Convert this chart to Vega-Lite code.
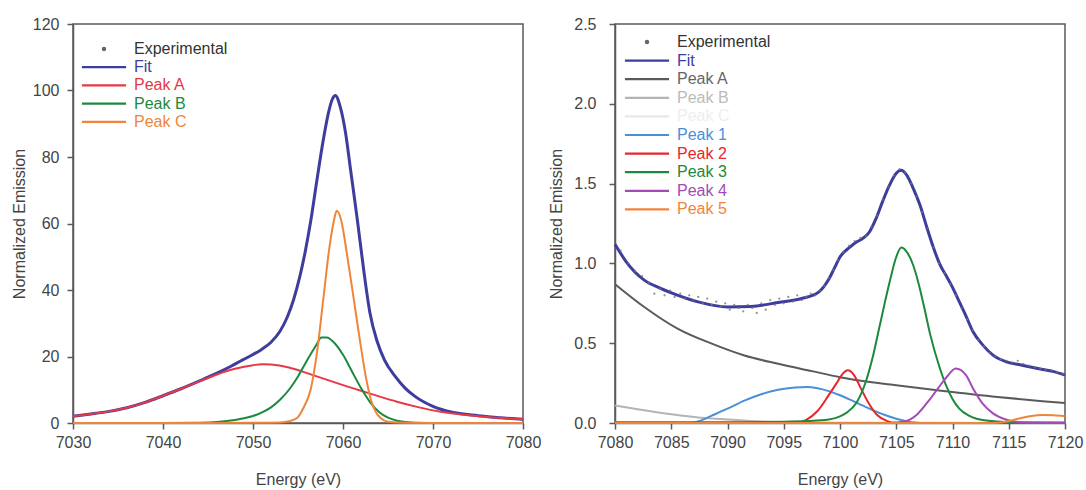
{
  "$schema": "https://vega.github.io/schema/vega-lite/v6.json",
  "background": "white",
  "padding": {"left": 10, "top": 15, "right": 0, "bottom": 0},
  "config": {
    "font": "Liberation Sans",
    "view": {"stroke": "#5a5a5a", "strokeWidth": 1.5},
    "axis": {"domainColor": "#5a5a5a", "domainWidth": 1.5, "tickColor": "#5a5a5a", "tickWidth": 1.5, "tickSize": 6, "labelColor": "#444", "labelFontSize": 16, "titleFontSize": 16, "titleFontWeight": "normal", "titleColor": "#444", "grid": false, "labelFlush": false},
    "concat": {"spacing": 6}
  },
  "resolve": {"scale": {"color": "independent"}},
  "datasets": {
    "left": [
      {"series": "Experimental", "x": 7032, "y": 2.7}, {"series": "Experimental", "x": 7036, "y": 4.6}, {"series": "Experimental", "x": 7040, "y": 8.2}, {"series": "Experimental", "x": 7044, "y": 12.6}, {"series": "Experimental", "x": 7048, "y": 17.7}, {"series": "Experimental", "x": 7052, "y": 24.3}, {"series": "Experimental", "x": 7056, "y": 55.2}, {"series": "Experimental", "x": 7058, "y": 87.8}, {"series": "Experimental", "x": 7059, "y": 98.0}, {"series": "Experimental", "x": 7060, "y": 91.0}, {"series": "Experimental", "x": 7062, "y": 52.4}, {"series": "Experimental", "x": 7064, "y": 23.1}, {"series": "Experimental", "x": 7068, "y": 8.0}, {"series": "Experimental", "x": 7072, "y": 3.3}, {"series": "Experimental", "x": 7076, "y": 1.9},
      {"series": "Fit", "x": 7030, "y": 2.0}, {"series": "Fit", "x": 7032, "y": 2.7}, {"series": "Fit", "x": 7034, "y": 3.5}, {"series": "Fit", "x": 7036, "y": 4.6}, {"series": "Fit", "x": 7038, "y": 6.2}, {"series": "Fit", "x": 7040, "y": 8.2}, {"series": "Fit", "x": 7042, "y": 10.3}, {"series": "Fit", "x": 7044, "y": 12.6}, {"series": "Fit", "x": 7046, "y": 15.0}, {"series": "Fit", "x": 7047.5, "y": 17.0}, {"series": "Fit", "x": 7048.8, "y": 18.9}, {"series": "Fit", "x": 7050, "y": 20.6}, {"series": "Fit", "x": 7051, "y": 22.2}, {"series": "Fit", "x": 7052, "y": 24.3}, {"series": "Fit", "x": 7053, "y": 27.6}, {"series": "Fit", "x": 7053.8, "y": 31.8}, {"series": "Fit", "x": 7054.5, "y": 37.0}, {"series": "Fit", "x": 7055.2, "y": 44.0}, {"series": "Fit", "x": 7055.8, "y": 51.5}, {"series": "Fit", "x": 7056.4, "y": 60.5}, {"series": "Fit", "x": 7057.1, "y": 73.0}, {"series": "Fit", "x": 7057.8, "y": 85.0}, {"series": "Fit", "x": 7058.4, "y": 93.5}, {"series": "Fit", "x": 7058.8, "y": 97.3}, {"series": "Fit", "x": 7059.15, "y": 98.5}, {"series": "Fit", "x": 7059.7, "y": 95.0}, {"series": "Fit", "x": 7060.3, "y": 87.0}, {"series": "Fit", "x": 7060.8, "y": 77.0}, {"series": "Fit", "x": 7061.6, "y": 61.0}, {"series": "Fit", "x": 7062.3, "y": 46.0}, {"series": "Fit", "x": 7063.0, "y": 33.0}, {"series": "Fit", "x": 7063.8, "y": 24.5}, {"series": "Fit", "x": 7064.6, "y": 19.0}, {"series": "Fit", "x": 7065.8, "y": 14.0}, {"series": "Fit", "x": 7066.9, "y": 10.5}, {"series": "Fit", "x": 7068, "y": 8.0}, {"series": "Fit", "x": 7070, "y": 5.0}, {"series": "Fit", "x": 7072, "y": 3.3}, {"series": "Fit", "x": 7075, "y": 2.2}, {"series": "Fit", "x": 7077.5, "y": 1.6}, {"series": "Fit", "x": 7080, "y": 1.1},
      {"series": "Peak A", "x": 7030, "y": 2.0}, {"series": "Peak A", "x": 7032, "y": 2.7}, {"series": "Peak A", "x": 7034, "y": 3.5}, {"series": "Peak A", "x": 7036, "y": 4.6}, {"series": "Peak A", "x": 7038, "y": 6.2}, {"series": "Peak A", "x": 7040, "y": 8.2}, {"series": "Peak A", "x": 7042, "y": 10.3}, {"series": "Peak A", "x": 7044, "y": 12.5}, {"series": "Peak A", "x": 7046, "y": 14.6}, {"series": "Peak A", "x": 7048, "y": 16.3}, {"series": "Peak A", "x": 7050, "y": 17.4}, {"series": "Peak A", "x": 7051, "y": 17.7}, {"series": "Peak A", "x": 7052, "y": 17.6}, {"series": "Peak A", "x": 7054, "y": 16.7}, {"series": "Peak A", "x": 7056, "y": 15.0}, {"series": "Peak A", "x": 7058, "y": 13.2}, {"series": "Peak A", "x": 7060, "y": 11.4}, {"series": "Peak A", "x": 7062, "y": 9.7}, {"series": "Peak A", "x": 7064, "y": 8.0}, {"series": "Peak A", "x": 7066, "y": 6.4}, {"series": "Peak A", "x": 7068, "y": 5.0}, {"series": "Peak A", "x": 7070, "y": 3.8}, {"series": "Peak A", "x": 7072, "y": 2.9}, {"series": "Peak A", "x": 7074, "y": 2.3}, {"series": "Peak A", "x": 7076, "y": 1.8}, {"series": "Peak A", "x": 7078, "y": 1.4}, {"series": "Peak A", "x": 7080, "y": 1.1},
      {"series": "Peak B", "x": 7030, "y": 0}, {"series": "Peak B", "x": 7040, "y": 0.02}, {"series": "Peak B", "x": 7044, "y": 0.1}, {"series": "Peak B", "x": 7046, "y": 0.3}, {"series": "Peak B", "x": 7048, "y": 0.9}, {"series": "Peak B", "x": 7049, "y": 1.4}, {"series": "Peak B", "x": 7050, "y": 2.1}, {"series": "Peak B", "x": 7051, "y": 3.2}, {"series": "Peak B", "x": 7052, "y": 4.7}, {"series": "Peak B", "x": 7053, "y": 7.0}, {"series": "Peak B", "x": 7054, "y": 10.0}, {"series": "Peak B", "x": 7055, "y": 14.0}, {"series": "Peak B", "x": 7056, "y": 18.8}, {"series": "Peak B", "x": 7057, "y": 23.3}, {"series": "Peak B", "x": 7057.6, "y": 25.7}, {"series": "Peak B", "x": 7058.2, "y": 25.7}, {"series": "Peak B", "x": 7059, "y": 24.2}, {"series": "Peak B", "x": 7060, "y": 20.5}, {"series": "Peak B", "x": 7061, "y": 15.5}, {"series": "Peak B", "x": 7062, "y": 10.5}, {"series": "Peak B", "x": 7063, "y": 6.3}, {"series": "Peak B", "x": 7064, "y": 3.3}, {"series": "Peak B", "x": 7065, "y": 1.6}, {"series": "Peak B", "x": 7066, "y": 0.7}, {"series": "Peak B", "x": 7067, "y": 0.3}, {"series": "Peak B", "x": 7068, "y": 0.1}, {"series": "Peak B", "x": 7070, "y": 0.02}, {"series": "Peak B", "x": 7080, "y": 0},
      {"series": "Peak C", "x": 7030, "y": 0}, {"series": "Peak C", "x": 7045, "y": 0}, {"series": "Peak C", "x": 7050, "y": 0.05}, {"series": "Peak C", "x": 7053, "y": 0.15}, {"series": "Peak C", "x": 7054, "y": 0.5}, {"series": "Peak C", "x": 7054.9, "y": 1.5}, {"series": "Peak C", "x": 7055.6, "y": 4.5}, {"series": "Peak C", "x": 7056.4, "y": 10.0}, {"series": "Peak C", "x": 7057.1, "y": 21.0}, {"series": "Peak C", "x": 7057.8, "y": 37.0}, {"series": "Peak C", "x": 7058.5, "y": 53.0}, {"series": "Peak C", "x": 7059.0, "y": 61.0}, {"series": "Peak C", "x": 7059.3, "y": 63.8}, {"series": "Peak C", "x": 7059.8, "y": 61.0}, {"series": "Peak C", "x": 7060.4, "y": 51.5}, {"series": "Peak C", "x": 7061.1, "y": 39.0}, {"series": "Peak C", "x": 7061.9, "y": 24.5}, {"series": "Peak C", "x": 7062.6, "y": 13.0}, {"series": "Peak C", "x": 7063.1, "y": 7.0}, {"series": "Peak C", "x": 7063.6, "y": 3.5}, {"series": "Peak C", "x": 7064.2, "y": 1.4}, {"series": "Peak C", "x": 7065, "y": 0.4}, {"series": "Peak C", "x": 7067, "y": 0.05}, {"series": "Peak C", "x": 7070, "y": 0}, {"series": "Peak C", "x": 7080, "y": 0}
    ],
    "right": [
      {"series": "Experimental", "x": 7080.5, "y": 1.08}, {"series": "Experimental", "x": 7081.2, "y": 1.0}, {"series": "Experimental", "x": 7081.8, "y": 0.95}, {"series": "Experimental", "x": 7082.4, "y": 0.92}, {"series": "Experimental", "x": 7083, "y": 0.88}, {"series": "Experimental", "x": 7083.5, "y": 0.81}, {"series": "Experimental", "x": 7084, "y": 0.84}, {"series": "Experimental", "x": 7084.4, "y": 0.8}, {"series": "Experimental", "x": 7084.9, "y": 0.83}, {"series": "Experimental", "x": 7085.3, "y": 0.79}, {"series": "Experimental", "x": 7085.8, "y": 0.81}, {"series": "Experimental", "x": 7086.2, "y": 0.78}, {"series": "Experimental", "x": 7086.6, "y": 0.8}, {"series": "Experimental", "x": 7087, "y": 0.77}, {"series": "Experimental", "x": 7087.4, "y": 0.79}, {"series": "Experimental", "x": 7087.8, "y": 0.75}, {"series": "Experimental", "x": 7088.2, "y": 0.78}, {"series": "Experimental", "x": 7088.6, "y": 0.74}, {"series": "Experimental", "x": 7089, "y": 0.76}, {"series": "Experimental", "x": 7089.4, "y": 0.73}, {"series": "Experimental", "x": 7089.8, "y": 0.75}, {"series": "Experimental", "x": 7090.2, "y": 0.71}, {"series": "Experimental", "x": 7090.6, "y": 0.74}, {"series": "Experimental", "x": 7091, "y": 0.72}, {"series": "Experimental", "x": 7091.4, "y": 0.7}, {"series": "Experimental", "x": 7091.8, "y": 0.74}, {"series": "Experimental", "x": 7092.2, "y": 0.72}, {"series": "Experimental", "x": 7092.6, "y": 0.69}, {"series": "Experimental", "x": 7093, "y": 0.75}, {"series": "Experimental", "x": 7093.4, "y": 0.71}, {"series": "Experimental", "x": 7093.8, "y": 0.77}, {"series": "Experimental", "x": 7094.2, "y": 0.74}, {"series": "Experimental", "x": 7094.6, "y": 0.78}, {"series": "Experimental", "x": 7095, "y": 0.75}, {"series": "Experimental", "x": 7095.4, "y": 0.79}, {"series": "Experimental", "x": 7095.8, "y": 0.76}, {"series": "Experimental", "x": 7096.2, "y": 0.8}, {"series": "Experimental", "x": 7096.6, "y": 0.77}, {"series": "Experimental", "x": 7097, "y": 0.79}, {"series": "Experimental", "x": 7097.4, "y": 0.81}, {"series": "Experimental", "x": 7097.8, "y": 0.8}, {"series": "Experimental", "x": 7098.2, "y": 0.83}, {"series": "Experimental", "x": 7098.6, "y": 0.86}, {"series": "Experimental", "x": 7099, "y": 0.91}, {"series": "Experimental", "x": 7099.4, "y": 0.96}, {"series": "Experimental", "x": 7099.8, "y": 1.02}, {"series": "Experimental", "x": 7100.3, "y": 1.07}, {"series": "Experimental", "x": 7100.8, "y": 1.11}, {"series": "Experimental", "x": 7101.3, "y": 1.14}, {"series": "Experimental", "x": 7101.8, "y": 1.16}, {"series": "Experimental", "x": 7102.3, "y": 1.17}, {"series": "Experimental", "x": 7102.8, "y": 1.23}, {"series": "Experimental", "x": 7103.3, "y": 1.3}, {"series": "Experimental", "x": 7103.8, "y": 1.4}, {"series": "Experimental", "x": 7104.3, "y": 1.48}, {"series": "Experimental", "x": 7104.8, "y": 1.55}, {"series": "Experimental", "x": 7105.3, "y": 1.59}, {"series": "Experimental", "x": 7105.8, "y": 1.57}, {"series": "Experimental", "x": 7106.3, "y": 1.5}, {"series": "Experimental", "x": 7106.8, "y": 1.42}, {"series": "Experimental", "x": 7107.3, "y": 1.32}, {"series": "Experimental", "x": 7107.8, "y": 1.22}, {"series": "Experimental", "x": 7108.3, "y": 1.1}, {"series": "Experimental", "x": 7108.8, "y": 1.0}, {"series": "Experimental", "x": 7109.3, "y": 0.94}, {"series": "Experimental", "x": 7109.8, "y": 0.87}, {"series": "Experimental", "x": 7110.3, "y": 0.8}, {"series": "Experimental", "x": 7110.8, "y": 0.72}, {"series": "Experimental", "x": 7111.3, "y": 0.65}, {"series": "Experimental", "x": 7111.8, "y": 0.58}, {"series": "Experimental", "x": 7112.3, "y": 0.52}, {"series": "Experimental", "x": 7112.8, "y": 0.48}, {"series": "Experimental", "x": 7113.3, "y": 0.44}, {"series": "Experimental", "x": 7113.8, "y": 0.42}, {"series": "Experimental", "x": 7114.3, "y": 0.4}, {"series": "Experimental", "x": 7114.8, "y": 0.39}, {"series": "Experimental", "x": 7115.3, "y": 0.38}, {"series": "Experimental", "x": 7115.8, "y": 0.39}, {"series": "Experimental", "x": 7116.3, "y": 0.37}, {"series": "Experimental", "x": 7116.8, "y": 0.36}, {"series": "Experimental", "x": 7117.3, "y": 0.35}, {"series": "Experimental", "x": 7117.8, "y": 0.34}, {"series": "Experimental", "x": 7118.3, "y": 0.335}, {"series": "Experimental", "x": 7118.8, "y": 0.33}, {"series": "Experimental", "x": 7119.3, "y": 0.32}, {"series": "Experimental", "x": 7119.8, "y": 0.31},
      {"series": "Fit", "x": 7080, "y": 1.12}, {"series": "Fit", "x": 7081, "y": 1.01}, {"series": "Fit", "x": 7082.6, "y": 0.895}, {"series": "Fit", "x": 7084, "y": 0.845}, {"series": "Fit", "x": 7085.6, "y": 0.8}, {"series": "Fit", "x": 7087.4, "y": 0.759}, {"series": "Fit", "x": 7090, "y": 0.727}, {"series": "Fit", "x": 7092.1, "y": 0.73}, {"series": "Fit", "x": 7094.5, "y": 0.755}, {"series": "Fit", "x": 7096.6, "y": 0.78}, {"series": "Fit", "x": 7098.1, "y": 0.82}, {"series": "Fit", "x": 7099, "y": 0.9}, {"series": "Fit", "x": 7099.5, "y": 0.97}, {"series": "Fit", "x": 7100, "y": 1.04}, {"series": "Fit", "x": 7100.85, "y": 1.1}, {"series": "Fit", "x": 7101.5, "y": 1.135}, {"series": "Fit", "x": 7102, "y": 1.155}, {"series": "Fit", "x": 7102.6, "y": 1.195}, {"series": "Fit", "x": 7103.2, "y": 1.28}, {"series": "Fit", "x": 7103.8, "y": 1.39}, {"series": "Fit", "x": 7104.4, "y": 1.49}, {"series": "Fit", "x": 7105, "y": 1.565}, {"series": "Fit", "x": 7105.44, "y": 1.583}, {"series": "Fit", "x": 7105.9, "y": 1.556}, {"series": "Fit", "x": 7106.5, "y": 1.472}, {"series": "Fit", "x": 7107.1, "y": 1.367}, {"series": "Fit", "x": 7107.7, "y": 1.23}, {"series": "Fit", "x": 7108.3, "y": 1.1}, {"series": "Fit", "x": 7108.9, "y": 0.99}, {"series": "Fit", "x": 7109.5, "y": 0.915}, {"series": "Fit", "x": 7110, "y": 0.85}, {"series": "Fit", "x": 7110.6, "y": 0.76}, {"series": "Fit", "x": 7111.2, "y": 0.67}, {"series": "Fit", "x": 7111.8, "y": 0.575}, {"series": "Fit", "x": 7112.7, "y": 0.488}, {"series": "Fit", "x": 7113.6, "y": 0.425}, {"series": "Fit", "x": 7114.8, "y": 0.383}, {"series": "Fit", "x": 7116.2, "y": 0.362}, {"series": "Fit", "x": 7117.7, "y": 0.34}, {"series": "Fit", "x": 7119, "y": 0.322}, {"series": "Fit", "x": 7120, "y": 0.3},
      {"series": "Peak A", "x": 7080, "y": 0.87}, {"series": "Peak A", "x": 7082.6, "y": 0.727}, {"series": "Peak A", "x": 7085.6, "y": 0.59}, {"series": "Peak A", "x": 7088.6, "y": 0.497}, {"series": "Peak A", "x": 7091.5, "y": 0.423}, {"series": "Peak A", "x": 7094.5, "y": 0.371}, {"series": "Peak A", "x": 7097.5, "y": 0.325}, {"series": "Peak A", "x": 7100, "y": 0.287}, {"series": "Peak A", "x": 7102.5, "y": 0.258}, {"series": "Peak A", "x": 7105, "y": 0.236}, {"series": "Peak A", "x": 7109, "y": 0.202}, {"series": "Peak A", "x": 7114, "y": 0.163}, {"series": "Peak A", "x": 7118, "y": 0.137}, {"series": "Peak A", "x": 7120, "y": 0.126},
      {"series": "Peak B", "x": 7080, "y": 0.11}, {"series": "Peak B", "x": 7083, "y": 0.075}, {"series": "Peak B", "x": 7086, "y": 0.046}, {"series": "Peak B", "x": 7089, "y": 0.026}, {"series": "Peak B", "x": 7092, "y": 0.013}, {"series": "Peak B", "x": 7096, "y": 0.004}, {"series": "Peak B", "x": 7100, "y": 0.001}, {"series": "Peak B", "x": 7120, "y": 0},
      {"series": "Peak C", "x": 7080, "y": 0.004}, {"series": "Peak C", "x": 7100, "y": 0.002}, {"series": "Peak C", "x": 7120, "y": 0.001},
      {"series": "Peak 1", "x": 7080, "y": 0}, {"series": "Peak 1", "x": 7086.8, "y": 0}, {"series": "Peak 1", "x": 7087.6, "y": 0.015}, {"series": "Peak 1", "x": 7088.6, "y": 0.046}, {"series": "Peak 1", "x": 7090, "y": 0.09}, {"series": "Peak 1", "x": 7091.5, "y": 0.14}, {"series": "Peak 1", "x": 7093, "y": 0.18}, {"series": "Peak 1", "x": 7094.5, "y": 0.208}, {"series": "Peak 1", "x": 7096, "y": 0.222}, {"series": "Peak 1", "x": 7097, "y": 0.225}, {"series": "Peak 1", "x": 7098, "y": 0.218}, {"series": "Peak 1", "x": 7099, "y": 0.2}, {"series": "Peak 1", "x": 7100, "y": 0.174}, {"series": "Peak 1", "x": 7101, "y": 0.143}, {"series": "Peak 1", "x": 7102, "y": 0.11}, {"series": "Peak 1", "x": 7103, "y": 0.078}, {"series": "Peak 1", "x": 7104, "y": 0.05}, {"series": "Peak 1", "x": 7105, "y": 0.027}, {"series": "Peak 1", "x": 7106, "y": 0.01}, {"series": "Peak 1", "x": 7107.1, "y": 0}, {"series": "Peak 1", "x": 7120, "y": 0},
      {"series": "Peak 2", "x": 7080, "y": 0}, {"series": "Peak 2", "x": 7096.2, "y": 0}, {"series": "Peak 2", "x": 7097, "y": 0.02}, {"series": "Peak 2", "x": 7098, "y": 0.075}, {"series": "Peak 2", "x": 7099, "y": 0.175}, {"series": "Peak 2", "x": 7099.7, "y": 0.25}, {"series": "Peak 2", "x": 7100.2, "y": 0.305}, {"series": "Peak 2", "x": 7100.7, "y": 0.33}, {"series": "Peak 2", "x": 7101.2, "y": 0.305}, {"series": "Peak 2", "x": 7101.8, "y": 0.225}, {"series": "Peak 2", "x": 7102.5, "y": 0.13}, {"series": "Peak 2", "x": 7103.3, "y": 0.05}, {"series": "Peak 2", "x": 7104.2, "y": 0.012}, {"series": "Peak 2", "x": 7105, "y": 0}, {"series": "Peak 2", "x": 7120, "y": 0},
      {"series": "Peak 3", "x": 7080, "y": 0.004}, {"series": "Peak 3", "x": 7090, "y": 0.005}, {"series": "Peak 3", "x": 7095, "y": 0.008}, {"series": "Peak 3", "x": 7097, "y": 0.012}, {"series": "Peak 3", "x": 7099, "y": 0.022}, {"series": "Peak 3", "x": 7100, "y": 0.042}, {"series": "Peak 3", "x": 7100.6, "y": 0.065}, {"series": "Peak 3", "x": 7101.45, "y": 0.125}, {"series": "Peak 3", "x": 7102.3, "y": 0.26}, {"series": "Peak 3", "x": 7102.9, "y": 0.41}, {"series": "Peak 3", "x": 7103.5, "y": 0.6}, {"series": "Peak 3", "x": 7104.4, "y": 0.88}, {"series": "Peak 3", "x": 7105, "y": 1.04}, {"series": "Peak 3", "x": 7105.45, "y": 1.099}, {"series": "Peak 3", "x": 7105.9, "y": 1.075}, {"series": "Peak 3", "x": 7106.5, "y": 0.99}, {"series": "Peak 3", "x": 7107, "y": 0.87}, {"series": "Peak 3", "x": 7107.5, "y": 0.72}, {"series": "Peak 3", "x": 7108, "y": 0.56}, {"series": "Peak 3", "x": 7108.8, "y": 0.36}, {"series": "Peak 3", "x": 7109.4, "y": 0.24}, {"series": "Peak 3", "x": 7110, "y": 0.15}, {"series": "Peak 3", "x": 7110.6, "y": 0.09}, {"series": "Peak 3", "x": 7111.5, "y": 0.045}, {"series": "Peak 3", "x": 7113, "y": 0.015}, {"series": "Peak 3", "x": 7115, "y": 0.005}, {"series": "Peak 3", "x": 7120, "y": 0.003},
      {"series": "Peak 4", "x": 7080, "y": 0}, {"series": "Peak 4", "x": 7104, "y": 0}, {"series": "Peak 4", "x": 7105, "y": 0.003}, {"series": "Peak 4", "x": 7105.9, "y": 0.012}, {"series": "Peak 4", "x": 7106.8, "y": 0.05}, {"series": "Peak 4", "x": 7108, "y": 0.15}, {"series": "Peak 4", "x": 7108.9, "y": 0.235}, {"series": "Peak 4", "x": 7109.5, "y": 0.29}, {"series": "Peak 4", "x": 7110.3, "y": 0.341}, {"series": "Peak 4", "x": 7111.2, "y": 0.3}, {"series": "Peak 4", "x": 7111.8, "y": 0.22}, {"series": "Peak 4", "x": 7112.7, "y": 0.12}, {"series": "Peak 4", "x": 7113.6, "y": 0.06}, {"series": "Peak 4", "x": 7114.8, "y": 0.02}, {"series": "Peak 4", "x": 7116, "y": 0.003}, {"series": "Peak 4", "x": 7117, "y": 0}, {"series": "Peak 4", "x": 7120, "y": 0},
      {"series": "Peak 5", "x": 7080, "y": 0}, {"series": "Peak 5", "x": 7113.5, "y": 0}, {"series": "Peak 5", "x": 7114.5, "y": 0.005}, {"series": "Peak 5", "x": 7115.5, "y": 0.02}, {"series": "Peak 5", "x": 7116.2, "y": 0.033}, {"series": "Peak 5", "x": 7117, "y": 0.044}, {"series": "Peak 5", "x": 7118, "y": 0.05}, {"series": "Peak 5", "x": 7119, "y": 0.048}, {"series": "Peak 5", "x": 7120, "y": 0.042}
    ]
  },
  "hconcat": [
    {
      "width": 450,
      "height": 399,
      "data": {"name": "left"},
      "encoding": {
        "x": {"field": "x", "type": "quantitative", "scale": {"domain": [7030, 7080], "nice": false, "zero": false}, "axis": {"values": [7030, 7040, 7050, 7060, 7070, 7080], "format": "d", "title": "Energy (eV)", "labelPadding": 5, "titlePadding": 21}},
        "y": {"field": "y", "type": "quantitative", "scale": {"domain": [0, 120], "nice": false}, "axis": {"values": [0, 20, 40, 60, 80, 100, 120], "title": "Normalized Emission", "labelPadding": 8, "titlePadding": 5}}
      },
      "layer": [
        {
          "transform": [{"filter": "datum.series === 'Experimental'"}],
          "mark": {"type": "circle", "size": 5, "color": "#777", "opacity": 0.8}
        },
        {
          "transform": [{"filter": "datum.series === 'Fit'"}],
          "mark": {"type": "line", "strokeWidth": 3, "interpolate": "monotone"},
          "encoding": {
            "color": {"field": "series", "type": "nominal", "scale": {"domain": ["Experimental", "Fit", "Peak A", "Peak B", "Peak C"], "range": ["#666666", "#3d3d9e", "#e53945", "#1c8a3c", "#f0853a"]},
              "legend": {"title": null, "orient": "none", "legendX": 23, "legendY": 17, "symbolType": "M-5,0H5", "symbolSize": 78, "symbolStrokeWidth": 2.2, "labelFontSize": 16, "labelOffset": 22, "rowPadding": 2.2, "padding": 0, "labelLimit": 300,
                "encode": {
                  "symbols": {"update": {"shape": {"signal": "datum.value === 'Experimental' ? 'circle' : 'M-5,0H5'"}, "size": {"signal": "datum.value === 'Experimental' ? 5 : 78"}, "fill": {"signal": "datum.value === 'Experimental' ? '#666666' : 'transparent'"}}},
                  "labels": {"update": {"fill": {"signal": "datum.value === 'Fit' ? '#3d3d9e' : datum.value === 'Peak A' ? '#e53945' : datum.value === 'Peak B' ? '#1c8a3c' : datum.value === 'Peak C' ? '#f0853a' : '#333333'"}}}
                }}}
          }
        },
        {
          "transform": [{"filter": "datum.series !== 'Experimental' && datum.series !== 'Fit'"}],
          "mark": {"type": "line", "strokeWidth": 2, "interpolate": "monotone"},
          "encoding": {
            "color": {"field": "series", "type": "nominal", "scale": {"domain": ["Experimental", "Fit", "Peak A", "Peak B", "Peak C"], "range": ["#666666", "#3d3d9e", "#e53945", "#1c8a3c", "#f0853a"]},
              "legend": {"title": null, "orient": "none", "legendX": 23, "legendY": 17, "symbolType": "M-5,0H5", "symbolSize": 78, "symbolStrokeWidth": 2.2, "labelFontSize": 16, "labelOffset": 22, "rowPadding": 2.2, "padding": 0, "labelLimit": 300,
                "encode": {
                  "symbols": {"update": {"shape": {"signal": "datum.value === 'Experimental' ? 'circle' : 'M-5,0H5'"}, "size": {"signal": "datum.value === 'Experimental' ? 5 : 78"}, "fill": {"signal": "datum.value === 'Experimental' ? '#666666' : 'transparent'"}}},
                  "labels": {"update": {"fill": {"signal": "datum.value === 'Fit' ? '#3d3d9e' : datum.value === 'Peak A' ? '#e53945' : datum.value === 'Peak B' ? '#1c8a3c' : datum.value === 'Peak C' ? '#f0853a' : '#333333'"}}}
                }}}
          }
        }
      ]
    },
    {
      "width": 450,
      "height": 399,
      "data": {"name": "right"},
      "encoding": {
        "x": {"field": "x", "type": "quantitative", "scale": {"domain": [7080, 7120], "nice": false, "zero": false}, "axis": {"values": [7080, 7085, 7090, 7095, 7100, 7105, 7110, 7115, 7120], "format": "d", "title": "Energy (eV)", "labelPadding": 5, "titlePadding": 21}},
        "y": {"field": "y", "type": "quantitative", "scale": {"domain": [0, 2.5], "nice": false}, "axis": {"values": [0, 0.5, 1, 1.5, 2, 2.5], "format": ".1f", "title": "Normalized Emission", "labelPadding": 13, "titlePadding": 9}}
      },
      "layer": [
        {
          "transform": [{"filter": "datum.series === 'Fit'"}],
          "mark": {"type": "line", "strokeWidth": 3, "interpolate": "monotone"},
          "encoding": {
            "color": {"field": "series", "type": "nominal", "scale": {"domain": ["Experimental", "Fit", "Peak A", "Peak B", "Peak C", "Peak 1", "Peak 2", "Peak 3", "Peak 4", "Peak 5"], "range": ["#666666", "#3d3d9e", "#5a5a5a", "#b4b4b4", "#e8e8e8", "#4a8fd9", "#e8262b", "#1c8a3c", "#a24bb4", "#f0853a"]},
              "legend": {"title": null, "orient": "none", "legendX": 24, "legendY": 10, "symbolType": "M-5,0H5", "symbolSize": 78, "symbolStrokeWidth": 2.2, "labelFontSize": 16, "labelOffset": 22, "rowPadding": 2.6, "padding": 0, "labelLimit": 300,
                "encode": {
                  "symbols": {"update": {"shape": {"signal": "datum.value === 'Experimental' ? 'circle' : 'M-5,0H5'"}, "size": {"signal": "datum.value === 'Experimental' ? 5 : 78"}, "fill": {"signal": "datum.value === 'Experimental' ? '#666666' : 'transparent'"}}},
                  "labels": {"update": {"fill": {"signal": "datum.value === 'Fit' ? '#3d3d9e' : datum.value === 'Peak A' ? '#666666' : datum.value === 'Peak B' ? '#bbbbbb' : datum.value === 'Peak C' ? '#eeeeee' : datum.value === 'Peak 1' ? '#4a8fd9' : datum.value === 'Peak 2' ? '#e8262b' : datum.value === 'Peak 3' ? '#1c8a3c' : datum.value === 'Peak 4' ? '#a24bb4' : datum.value === 'Peak 5' ? '#f0853a' : '#333333'"}}}
                }}}
          }
        },
        {
          "transform": [{"filter": "datum.series === 'Experimental'"}],
          "mark": {"type": "circle", "size": 5, "color": "#777", "opacity": 0.8}
        },
        {
          "transform": [{"filter": "datum.series !== 'Experimental' && datum.series !== 'Fit'"}],
          "mark": {"type": "line", "strokeWidth": 2, "interpolate": "monotone"},
          "encoding": {
            "color": {"field": "series", "type": "nominal", "scale": {"domain": ["Experimental", "Fit", "Peak A", "Peak B", "Peak C", "Peak 1", "Peak 2", "Peak 3", "Peak 4", "Peak 5"], "range": ["#666666", "#3d3d9e", "#5a5a5a", "#b4b4b4", "#e8e8e8", "#4a8fd9", "#e8262b", "#1c8a3c", "#a24bb4", "#f0853a"]},
              "legend": {"title": null, "orient": "none", "legendX": 24, "legendY": 10, "symbolType": "M-5,0H5", "symbolSize": 78, "symbolStrokeWidth": 2.2, "labelFontSize": 16, "labelOffset": 22, "rowPadding": 2.6, "padding": 0, "labelLimit": 300,
                "encode": {
                  "symbols": {"update": {"shape": {"signal": "datum.value === 'Experimental' ? 'circle' : 'M-5,0H5'"}, "size": {"signal": "datum.value === 'Experimental' ? 5 : 78"}, "fill": {"signal": "datum.value === 'Experimental' ? '#666666' : 'transparent'"}}},
                  "labels": {"update": {"fill": {"signal": "datum.value === 'Fit' ? '#3d3d9e' : datum.value === 'Peak A' ? '#666666' : datum.value === 'Peak B' ? '#bbbbbb' : datum.value === 'Peak C' ? '#eeeeee' : datum.value === 'Peak 1' ? '#4a8fd9' : datum.value === 'Peak 2' ? '#e8262b' : datum.value === 'Peak 3' ? '#1c8a3c' : datum.value === 'Peak 4' ? '#a24bb4' : datum.value === 'Peak 5' ? '#f0853a' : '#333333'"}}}
                }}}
          }
        }
      ]
    }
  ]
}
